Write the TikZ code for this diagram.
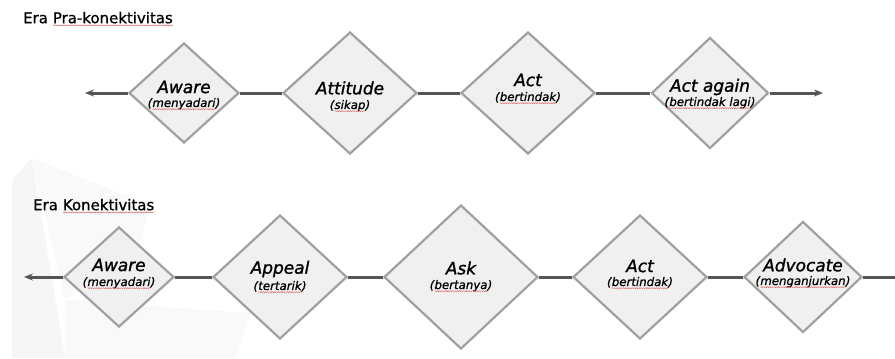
\documentclass[tikz,border=0pt]{standalone}
\usepackage{fontspec}
\setmainfont{DejaVu Sans}
\usetikzlibrary{shapes.geometric,arrows.meta,decorations.pathmorphing}
\definecolor{dfill}{HTML}{F0F0F0}
\definecolor{dline}{HTML}{A0A0A0}
\definecolor{conn}{HTML}{555555}
\definecolor{bgA}{HTML}{F6F6F6}
\definecolor{bgB}{HTML}{F9F9F9}
\definecolor{sqred}{HTML}{E06A6A}
\newcommand\sq[1]{\tikz[baseline=(sqw.base)]{\node[inner sep=0pt,outer sep=0pt,anchor=base](sqw){#1};\draw[sqred,line width=0.45pt,decorate,decoration={snake,amplitude=0.55pt,segment length=2.2pt}] ([yshift=-2.2pt]sqw.base west) -- ([yshift=-2.2pt]sqw.base east);}}
\begin{document}
\begin{tikzpicture}[x=1bp,y=-1bp,
  dmd/.style={diamond, draw=dline, fill=dfill, line width=2.2bp, inner sep=0pt},
  mainlbl/.style={font=\fontsize{17}{20}\selectfont\itshape\addfontfeature{FakeBold=1.3}, inner sep=0pt},
  sublbl/.style={font=\fontsize{11.8}{13}\selectfont\itshape\addfontfeature{FakeBold=1}, inner sep=0pt},
  ttl/.style={font=\fontsize{15}{17}\selectfont\addfontfeature{FakeBold=0.8}, inner sep=0pt, anchor=west},
  cline/.style={draw=conn, line width=3bp},
  carrow/.style={cline, -{Stealth[length=9bp,width=7bp]}}]
\useasboundingbox (0,0) rectangle (895,358);
% faint background facets
\fill[bgA] (12,180) -- (32,158) -- (65,358) -- (12,358) -- cycle;
\fill[bgB] (32,158) -- (150,205) -- (140,245) -- (65,300) -- cycle;
\fill[bgB] (65,300) -- (250,313) -- (235,358) -- (65,358) -- cycle;
% titles
\node[ttl] (h1) at (23,19) {Era \sq{Pra-konektivitas}};
\node[ttl] (h2) at (33,206) {Era \sq{Konektivitas}};
% top row
\node[dmd, minimum width=110bp, minimum height=100bp] (t1) at (184,93) {};
\node[dmd, minimum width=134bp, minimum height=122bp] (t2) at (350,93) {};
\node[dmd, minimum width=134bp, minimum height=122bp] (t3) at (528,93) {};
\node[dmd, minimum width=117bp, minimum height=111bp] (t4) at (710,93) {};
\coordinate (tl) at (85,93);
\coordinate (tr) at (823,93);
\draw[carrow] (t1.west) -- (tl);
\draw[cline] (t1.east) -- (t2.west);
\draw[cline] (t2.east) -- (t3.west);
\draw[cline] (t3.east) -- (t4.west);
\draw[carrow] (t4.east) -- (tr);
\node[mainlbl] (t1a) at (184,87) {Aware};
\node[sublbl] (t1b) at (184,104) {(\sq{menyadari})};
\node[mainlbl] (t2a) at (350,88) {Attitude};
\node[sublbl] (t2b) at (350,106) {(\sq{sikap})};
\node[mainlbl] (t3a) at (528,80) {Act};
\node[sublbl] (t3b) at (528,98) {(\sq{bertindak})};
\node[mainlbl] (t4a) at (710,87) {Act again};
\node[sublbl] (t4b) at (710,103) {(\sq{bertindak lagi})};
% bottom row
\node[dmd, minimum width=110bp, minimum height=100bp] (b1) at (119,277) {};
\node[dmd, minimum width=134bp, minimum height=124bp] (b2) at (280,277) {};
\node[dmd, minimum width=154bp, minimum height=144bp] (b3) at (461,277) {};
\node[dmd, minimum width=134bp, minimum height=124bp] (b4) at (640,277) {};
\node[dmd, minimum width=118bp, minimum height=111bp] (b5) at (803,277) {};
\coordinate (bl) at (24,277);
\coordinate (br) at (895,277);
\draw[carrow] (b1.west) -- (bl);
\draw[cline] (b1.east) -- (b2.west);
\draw[cline] (b2.east) -- (b3.west);
\draw[cline] (b3.east) -- (b4.west);
\draw[cline] (b4.east) -- (b5.west);
\draw[cline] (b5.east) -- (br);
\node[mainlbl] (b1a) at (119,265) {Aware};
\node[sublbl] (b1b) at (119,283) {(\sq{menyadari})};
\node[mainlbl] (b2a) at (280,269) {Appeal};
\node[sublbl] (b2b) at (280,287) {(\sq{tertarik})};
\node[mainlbl] (b3a) at (461,268) {Ask};
\node[sublbl] (b3b) at (461,286) {(\sq{bertanya})};
\node[mainlbl] (b4a) at (640,266) {Act};
\node[sublbl] (b4b) at (640,283) {(\sq{bertindak})};
\node[mainlbl] (b5a) at (803,265) {Advocate};
\node[sublbl] (b5b) at (803,282) {(\sq{menganjurkan})};
\end{tikzpicture}
\end{document}
